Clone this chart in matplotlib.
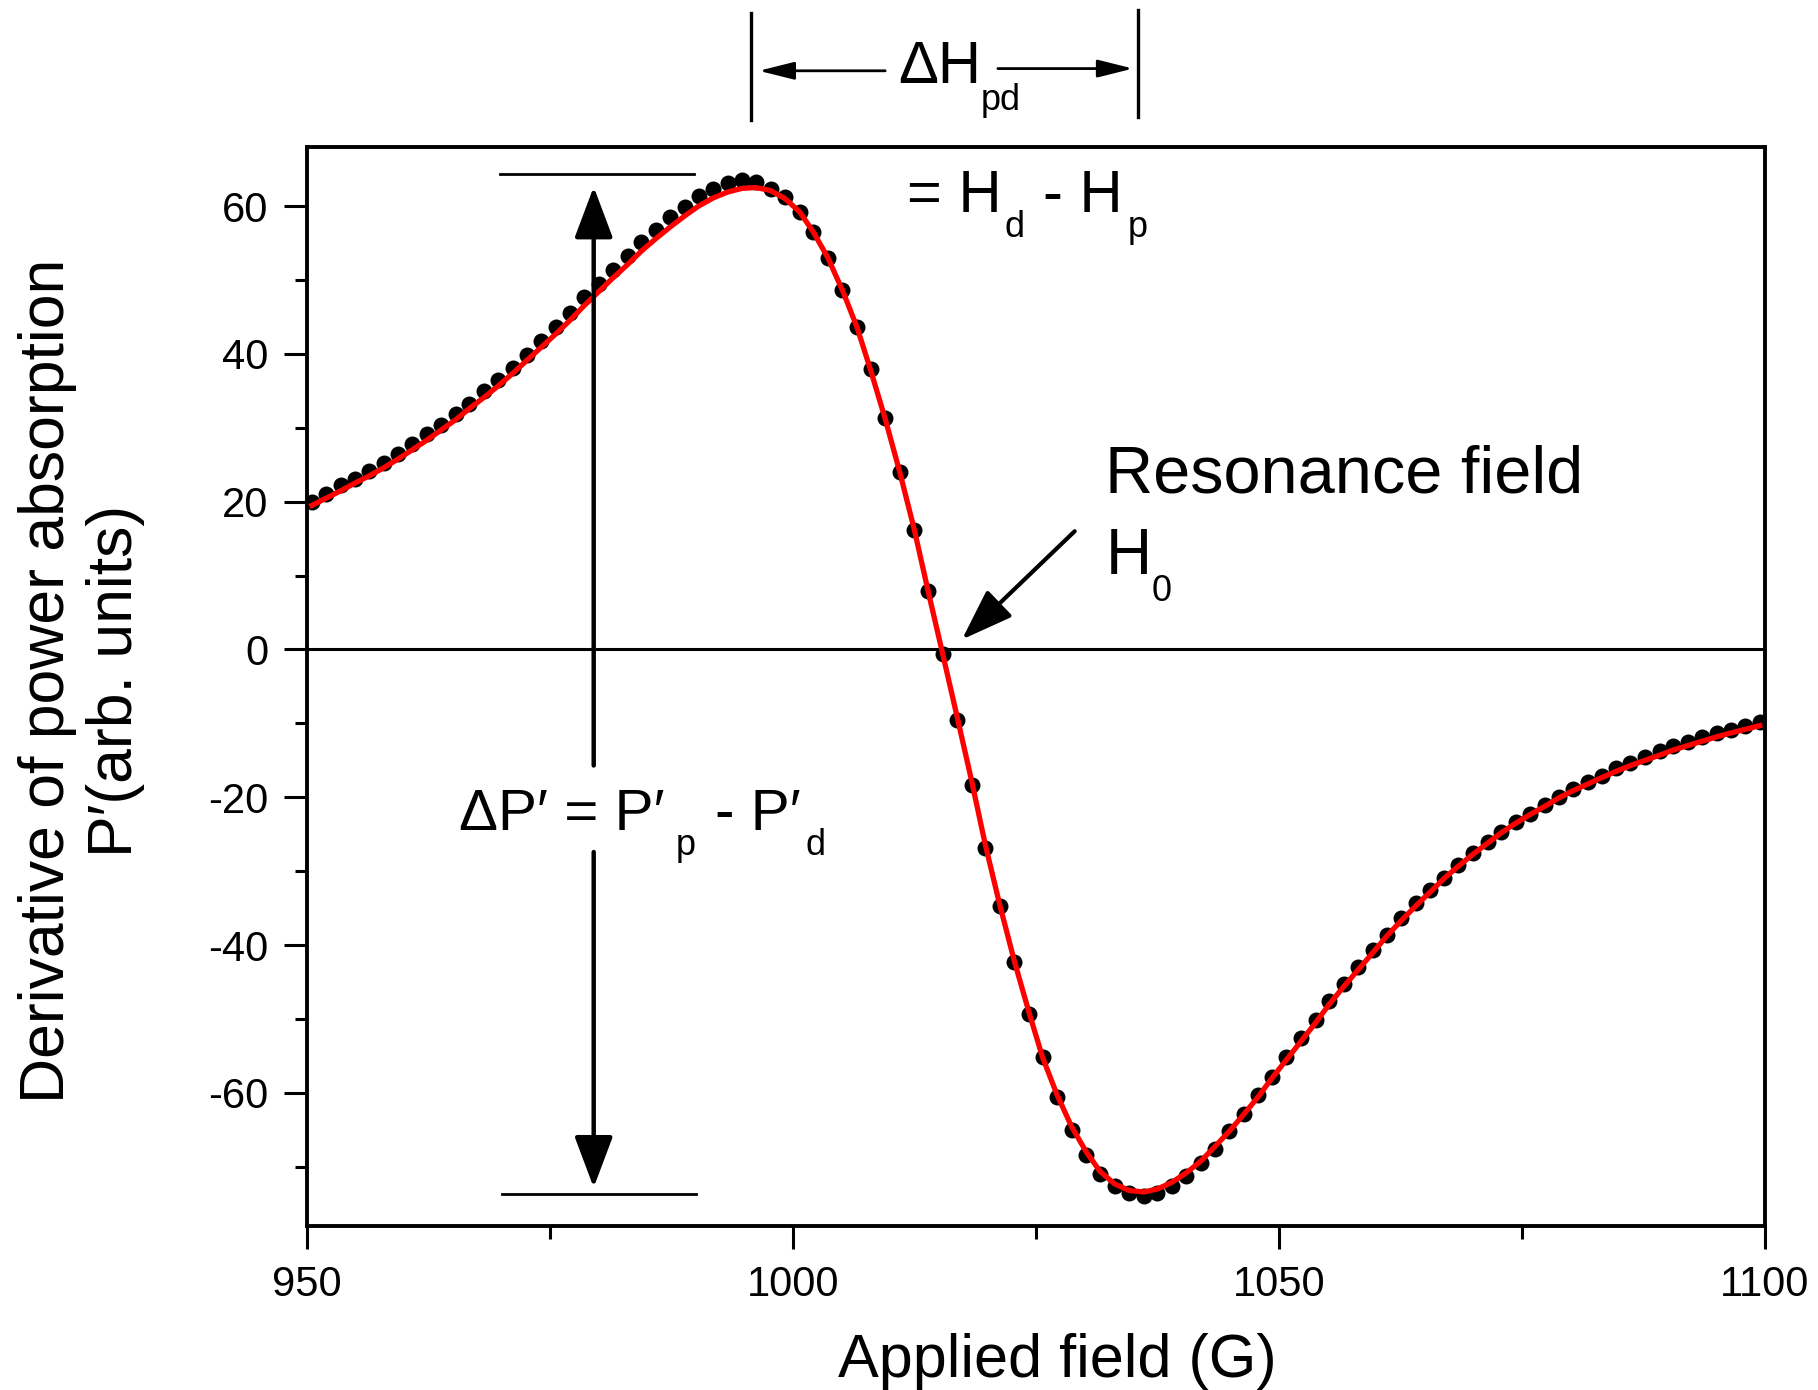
import numpy as np
import matplotlib
matplotlib.use('Agg')
import matplotlib.pyplot as plt
from matplotlib.ticker import MultipleLocator

plt.rcParams['font.family'] = ['Liberation Sans', 'DejaVu Sans']
plt.rcParams['axes.unicode_minus'] = False

# applied field (G) of each measured point
field = [950.5, 952.0, 953.5, 954.9, 956.4, 957.9, 959.4, 960.8, 962.3, 963.8,
         965.3, 966.7, 968.2, 969.7, 971.2, 972.6, 974.1, 975.6, 977.1, 978.5,
         980.0, 981.5, 983.0, 984.4, 985.9, 987.4, 988.9, 990.3, 991.8, 993.3,
         994.8, 996.2, 997.7, 999.2, 1000.7, 1002.1, 1003.6, 1005.1, 1006.6, 1008.0,
         1009.5, 1011.0, 1012.5, 1013.9, 1015.4, 1016.9, 1018.4, 1019.8, 1021.3, 1022.8,
         1024.3, 1025.7, 1027.2, 1028.7, 1030.2, 1031.6, 1033.1, 1034.6, 1036.1, 1037.5,
         1039.0, 1040.5, 1042.0, 1043.4, 1044.9, 1046.4, 1047.9, 1049.3, 1050.8, 1052.3,
         1053.8, 1055.2, 1056.7, 1058.2, 1059.7, 1061.1, 1062.6, 1064.1, 1065.6, 1067.0,
         1068.5, 1070.0, 1071.5, 1072.9, 1074.4, 1075.9, 1077.4, 1078.8, 1080.3, 1081.8,
         1083.3, 1084.7, 1086.2, 1087.7, 1089.2, 1090.6, 1092.1, 1093.6, 1095.1, 1096.5,
         1098.0, 1099.5]

# measured P' (dots)
measured = [19.9, 21.1, 22.2, 23.1, 24.1, 25.3, 26.5, 27.8, 29.2, 30.4,
            31.9, 33.2, 35.0, 36.5, 38.1, 39.9, 41.7, 43.6, 45.5, 47.7,
            49.5, 51.4, 53.2, 55.1, 56.8, 58.5, 59.9, 61.3, 62.3, 63.1,
            63.5, 63.3, 62.3, 61.2, 59.2, 56.5, 53.0, 48.6, 43.7, 37.9,
            31.3, 24.0, 16.2, 7.9, -0.6, -9.5, -18.3, -26.8, -34.7, -42.3,
            -49.3, -55.2, -60.5, -65.0, -68.4, -70.9, -72.6, -73.5, -73.9, -73.5,
            -72.6, -71.3, -69.5, -67.6, -65.2, -62.9, -60.3, -57.8, -55.2, -52.6,
            -50.1, -47.5, -45.2, -42.9, -40.6, -38.6, -36.3, -34.3, -32.6, -30.9,
            -29.2, -27.6, -26.1, -24.7, -23.4, -22.2, -21.0, -20.0, -18.9, -17.9,
            -17.1, -16.1, -15.4, -14.6, -13.8, -13.1, -12.5, -11.9, -11.3, -10.9,
            -10.4, -9.8]

# fitted curve (red line)
fitted = [19.5, 20.5, 21.5, 22.5, 23.5, 24.6, 25.8, 27.0, 28.3, 29.7,
          31.1, 32.6, 34.1, 35.7, 37.4, 39.1, 40.9, 42.7, 44.6, 46.5,
          48.4, 50.3, 52.1, 53.9, 55.6, 57.2, 58.7, 60.0, 61.1, 61.9,
          62.4, 62.5, 62.1, 61.0, 59.2, 56.5, 53.0, 48.6, 43.6, 37.8,
          31.2, 24.0, 16.2, 8.0, -0.5, -9.1, -17.8, -26.4, -34.6, -42.2,
          -49.1, -55.2, -60.3, -64.6, -68.0, -70.6, -72.3, -73.2, -73.4, -73.0,
          -72.1, -70.8, -69.2, -67.3, -65.2, -62.9, -60.5, -58.0, -55.5, -53.0,
          -50.5, -48.0, -45.6, -43.3, -41.0, -38.8, -36.7, -34.7, -32.8, -31.0,
          -29.3, -27.7, -26.2, -24.8, -23.5, -22.3, -21.2, -20.1, -19.1, -18.2,
          -17.3, -16.5, -15.7, -15.0, -14.3, -13.6, -13.0, -12.4, -11.8, -11.3,
          -10.8, -10.3]

x_ticks = [950, 1000, 1050, 1100]
y_ticks = [-60, -40, -20, 0, 20, 40, 60]

fig = plt.figure(figsize=(18.18, 13.90), dpi=100)
ax = fig.add_axes([0.1689, 0.1180, 0.8017, 0.7763])

ax.axhline(0, color='k', lw=2.2, zorder=1)
ax.plot(field, measured, 'o', color='k', ms=11.5, mew=0, zorder=2)
ax.plot(field, fitted, color='red', lw=3.8, zorder=3)

ax.set_xlim(950, 1100)
ax.set_ylim(-78, 68)
ax.set_xticks(x_ticks)
ax.set_yticks(y_ticks)
ax.xaxis.set_minor_locator(MultipleLocator(25))
ax.yaxis.set_minor_locator(MultipleLocator(10))
ax.tick_params(which='major', direction='out', length=16.5, width=2.2,
               labelsize=30, pad=11.5, top=False, right=False)
ax.tick_params(which='minor', direction='out', length=9, width=2.2,
               top=False, right=False)
for s in ax.spines.values():
    s.set_linewidth(2.8)

ax.set_xlabel('Applied field (G)', fontsize=44, va='baseline')
ax.xaxis.set_label_coords(0.515, -0.140)
ax.set_ylabel('Derivative of power absorption\nP\u2032(arb. units)', fontsize=45,
              va='center', ha='center', rotation_mode='anchor', linespacing=1.2)
ax.yaxis.set_label_coords(-0.155, 0.505)


def put(x, y, s, size):
    ax.text(x, y, s, fontsize=size, ha='left', va='baseline', clip_on=False)


# delta H_pd marker above the axes
ax.plot([995.7, 995.7], [71.7, 86.1], color='k', lw=2.4, clip_on=False)
ax.plot([1035.5, 1035.5], [72.1, 86.5], color='k', lw=2.4, clip_on=False)
small_head = dict(arrowstyle='-|>,head_length=21.6,head_width=5.4', mutation_scale=1,
                  color='k', lw=2.0, shrinkA=0, shrinkB=0)
ax.annotate('', xy=(996.5, 78.3), xytext=(1009.5, 78.3), arrowprops=small_head,
            annotation_clip=False)
ax.annotate('', xy=(1035.0, 78.6), xytext=(1021.1, 78.6), arrowprops=small_head,
            annotation_clip=False)
put(1010.8, 76.7, '\u0394H', 43)
put(1019.3, 73.0, 'pd', 26)

put(1011.7, 59.2, '= H', 43)
put(1021.8, 55.8, 'd', 26)
put(1025.7, 59.2, '- H', 43)
put(1034.5, 55.8, 'p', 26)

# peak-to-peak amplitude marker
ax.plot([969.9, 989.8], [64.4, 64.4], color='k', lw=2.0)
ax.plot([970.1, 990.0], [-73.7, -73.7], color='k', lw=2.0)
big_head = dict(arrowstyle='-|>,head_length=31.7,head_width=11.9', mutation_scale=1,
                color='k', lw=3.2, shrinkA=0, shrinkB=0)
ax.annotate('', xy=(979.5, 62.6), xytext=(979.5, -15.7), arrowprops=big_head)
ax.annotate('', xy=(979.5, -72.8), xytext=(979.5, -27.4), arrowprops=big_head)
put(965.6, -24.4, '\u0394P\u2032 = P\u2032', 42)
put(987.9, -27.8, 'p', 26)
put(992.0, -24.4, '- P\u2032', 42)
put(1001.3, -27.8, 'd', 26)

# resonance field
ax.annotate('', xy=(1017.4, 1.35), xytext=(1029.0, 16.0),
            arrowprops=dict(arrowstyle='-|>,head_length=32,head_width=11.3',
                            mutation_scale=1, color='k', lw=3.0, shrinkA=0, shrinkB=0))
put(1032.1, 21.3, 'Resonance field', 48)
put(1032.2, 10.2, 'H', 46)
put(1036.9, 6.5, '0', 26)

fig.savefig('out.png', dpi=100)
